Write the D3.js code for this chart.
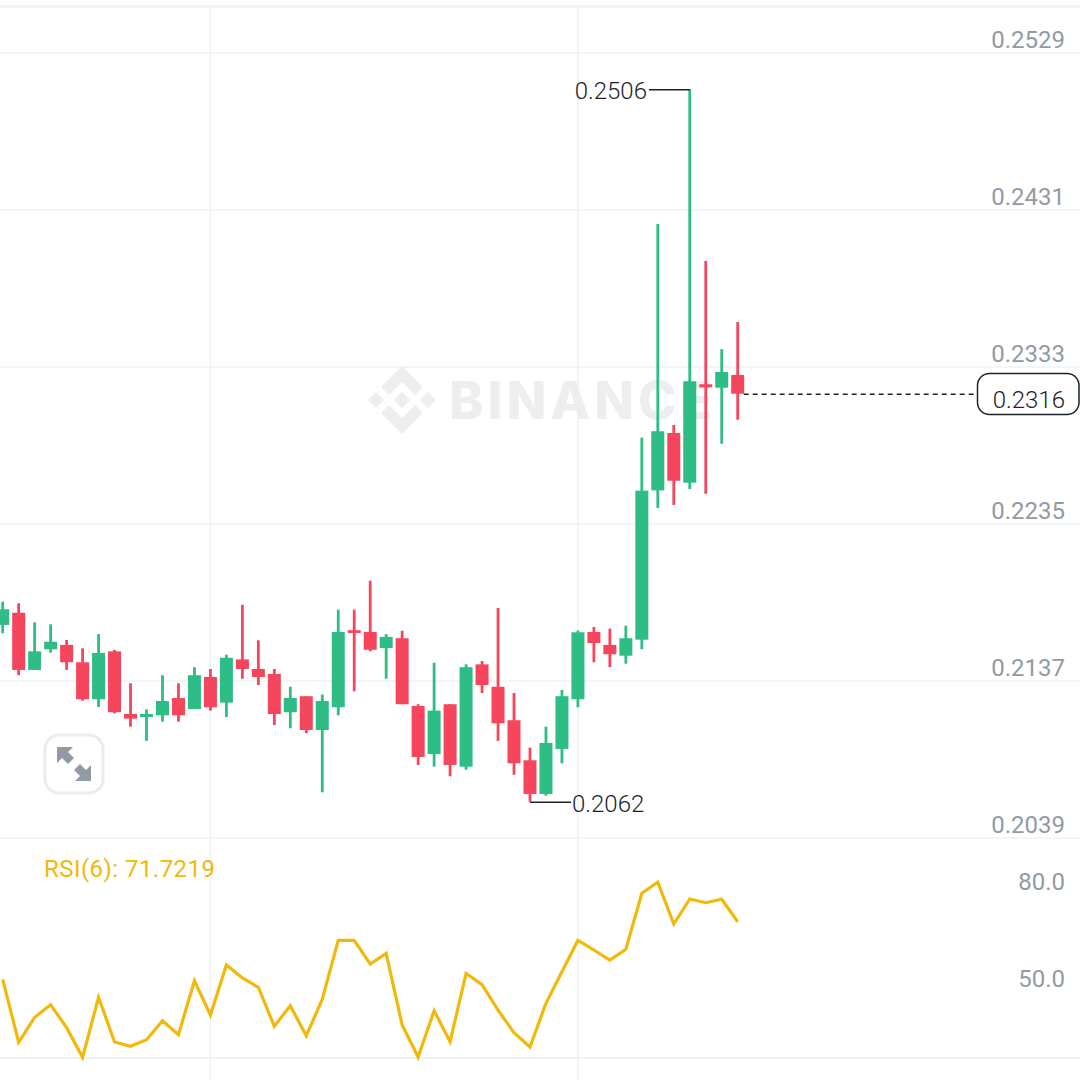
<!DOCTYPE html>
<html>
<head>
<meta charset="utf-8">
<script src="https://cdn.jsdelivr.net/npm/d3@7"></script>
<style>
  html, body { margin: 0; padding: 0; background: #fff; }
  svg { display: block; }
  text { font-family: Roboto, sans-serif; }
</style>
</head>
<body>
<div id="chart"></div>
<script>
// candles, oldest first
var opens = [0.21720,0.21796,0.21439,0.21568,0.21595,0.21487,0.21256,0.21555,0.21164,0.21145,0.21156,0.21264,0.21195,0.21395,0.21235,0.21505,0.21445,0.21414,0.21175,0.21275,0.21064,0.21206,0.21687,0.21676,0.21576,0.21637,0.21214,0.20914,0.21225,0.20835,0.21474,0.21334,0.21125,0.20875,0.20665,0.20946,0.21256,0.21676,0.21595,0.21528,0.21628,0.22560,0.22918,0.22608,0.23222,0.23201,0.23280];
var closes = [0.21818,0.21439,0.21555,0.21615,0.21487,0.21256,0.21545,0.21175,0.21135,0.21164,0.21245,0.21156,0.21406,0.21206,0.21515,0.21445,0.21395,0.21164,0.21264,0.21064,0.21245,0.21676,0.21670,0.21565,0.21645,0.21225,0.20896,0.21185,0.20846,0.21456,0.21345,0.21106,0.20856,0.20665,0.20983,0.21275,0.21674,0.21607,0.21537,0.21637,0.22558,0.22929,0.22620,0.23241,0.23203,0.23299,0.23163];
var highs = [0.21865,0.21855,0.21736,0.21724,0.21626,0.21574,0.21663,0.21564,0.21356,0.21193,0.21406,0.21356,0.21456,0.21445,0.21534,0.21846,0.21624,0.21445,0.21334,0.21275,0.21285,0.21815,0.21815,0.21996,0.21663,0.21684,0.21225,0.21484,0.21225,0.21474,0.21495,0.21826,0.21295,0.20954,0.21085,0.21314,0.21685,0.21707,0.21697,0.21715,0.22889,0.24223,0.22968,0.25065,0.23992,0.23441,0.23611];
var lows = [0.21668,0.21406,0.21439,0.21547,0.21439,0.21247,0.21208,0.21168,0.21085,0.20996,0.21116,0.21116,0.21195,0.21185,0.21145,0.21384,0.21345,0.21095,0.21075,0.21044,0.20675,0.21156,0.21306,0.21555,0.21384,0.21225,0.20846,0.20835,0.20775,0.20816,0.21295,0.20996,0.20785,0.20617,0.20654,0.20856,0.21206,0.21487,0.21457,0.21478,0.21568,0.22450,0.22469,0.22569,0.22539,0.22851,0.23001];
var rsi = [53.62,34.13,41.86,45.76,38.65,29.49,48.05,34.22,32.89,34.93,40.81,36.48,53.18,42.57,58.04,54.02,51.14,39.08,45.45,36.17,47.43,65.68,65.68,58.35,61.66,39.48,29.58,43.9,34.32,55.47,51.95,44.12,37.1,32.68,46.19,55.97,65.68,62.68,59.59,62.9,80.22,83.62,70.72,78.45,77.31,78.36,71.43];

var priceTicks = [0.2529,0.2431,0.2333,0.2235,0.2137,0.2039];
var rsiTicks = [80,50];
var lastPrice = 0.2316;
var highMark = 0.2506;
var lowMark = 0.2062;
var rsiLabel = "RSI(6): 71.7219";
var dateGrid = [13,36]; // candle index of the two vertical grid lines

var width = 1080, height = 1080;
var green = "#2ebd85", red = "#f6465d", grid = "#eff2f5", axisText = "#929aa5", dark = "#1e2329", yellow = "#f0b90b";

var svg = d3.select("#chart").append("svg")
  .attr("width", width)
  .attr("height", height);

// index -> x
var x = d3.scaleLinear().domain([0, 46]).range([2.7, 737.7]);
// price -> y
var y = d3.scaleLinear().domain([0.2039, 0.2529]).range([838, 53]);
// rsi -> y
var yRsi = d3.scaleLinear().domain([80, 50]).range([894, 991]);

// horizontal grid
svg.append("g").selectAll("line")
  .data(priceTicks)
  .enter().append("line")
  .attr("x1", 0).attr("x2", width)
  .attr("y1", d => y(d)).attr("y2", d => y(d))
  .attr("stroke", grid).attr("stroke-width", 1.5);

svg.append("line").attr("x1", 0).attr("x2", width).attr("y1", 6.5).attr("y2", 6.5)
  .attr("stroke", grid).attr("stroke-width", 2.5);
svg.append("line").attr("x1", 0).attr("x2", width).attr("y1", 1058).attr("y2", 1058)
  .attr("stroke", grid).attr("stroke-width", 2);

// vertical grid
svg.append("g").selectAll("line")
  .data(dateGrid)
  .enter().append("line")
  .attr("x1", d => x(d)).attr("x2", d => x(d))
  .attr("y1", 8).attr("y2", height)
  .attr("stroke", grid).attr("stroke-width", 1.5);

// watermark
var mark = svg.append("g").attr("fill", "#eceeef");
mark.append("g").attr("transform", "translate(402,400)").selectAll("path")
  .data([
    "M0,-34 L21,-13 L13,-5 L0,-18 L-13,-5 L-21,-13 Z",
    "M0,34 L21,13 L13,5 L0,18 L-13,5 L-21,13 Z",
    "M-34,0 L-26,-8 L-18,0 L-26,8 Z",
    "M34,0 L26,-8 L18,0 L26,8 Z",
    "M0,-8 L8,0 L0,8 L-8,0 Z"
  ])
  .enter().append("path").attr("d", d => d);
mark.append("text")
  .attr("x", 449).attr("y", 419)
  .attr("font-size", 52).attr("font-weight", 800).attr("letter-spacing", 4)
  .style("font-family", "Inter, sans-serif")
  .text("BINANCE");

// candles
var idx = d3.range(opens.length);
var candles = svg.append("g");
candles.selectAll("line")
  .data(idx)
  .enter().append("line")
  .attr("x1", i => x(i)).attr("x2", i => x(i))
  .attr("y1", i => y(highs[i])).attr("y2", i => y(lows[i]))
  .attr("stroke", i => closes[i] >= opens[i] ? green : red)
  .attr("stroke-width", 2.8);
candles.selectAll("rect")
  .data(idx)
  .enter().append("rect")
  .attr("x", i => x(i) - 6.5)
  .attr("width", 13)
  .attr("y", i => y(Math.max(opens[i], closes[i])))
  .attr("height", i => Math.abs(y(opens[i]) - y(closes[i])))
  .attr("fill", i => closes[i] >= opens[i] ? green : red);

// high / low callouts
svg.append("line").attr("x1", 649).attr("x2", x(43)).attr("y1", y(highMark)).attr("y2", y(highMark))
  .attr("stroke", dark).attr("stroke-width", 1.5);
svg.append("text").attr("x", 647).attr("y", y(highMark) + 9).attr("text-anchor", "end")
  .attr("font-size", 24).attr("font-weight", 300).attr("fill", dark).text(highMark.toFixed(4));
svg.append("line").attr("x1", x(33)).attr("x2", 571).attr("y1", y(lowMark) + 1).attr("y2", y(lowMark) + 1)
  .attr("stroke", dark).attr("stroke-width", 1.5);
svg.append("text").attr("x", 572).attr("y", y(lowMark) + 11)
  .attr("font-size", 24).attr("font-weight", 300).attr("fill", dark).text(lowMark.toFixed(4));

// last price
svg.append("line").attr("x1", x(46) + 6).attr("x2", 977).attr("y1", y(lastPrice)).attr("y2", y(lastPrice))
  .attr("stroke", dark).attr("stroke-width", 1.4).attr("stroke-dasharray", "5,4");
svg.append("rect").attr("x", 977.5).attr("y", 373.5).attr("width", 101.5).attr("height", 41).attr("rx", 12)
  .attr("fill", "#fff").attr("stroke", dark).attr("stroke-width", 1.5);
svg.append("text").attr("x", 1065).attr("y", 407.5).attr("text-anchor", "end")
  .attr("font-size", 24).attr("font-weight", 300).attr("fill", dark).text(lastPrice.toFixed(4));

// price axis labels
svg.append("g").selectAll("text")
  .data(priceTicks)
  .enter().append("text")
  .attr("x", 1065).attr("y", d => y(d) - 5)
  .attr("text-anchor", "end").attr("font-size", 24).attr("fill", axisText)
  .text(d => d.toFixed(4));

// rsi panel
var rsiLine = d3.line().x((d, i) => x(i)).y(d => yRsi(d));
svg.append("path").datum(rsi)
  .attr("d", rsiLine)
  .attr("fill", "none").attr("stroke", yellow).attr("stroke-width", 3.2);
svg.append("text").attr("x", 44).attr("y", 877)
  .attr("font-size", 24).attr("letter-spacing", 0.45).attr("fill", yellow).text(rsiLabel);
svg.append("g").selectAll("text")
  .data(rsiTicks)
  .enter().append("text")
  .attr("x", 1065).attr("y", d => yRsi(d) - 4)
  .attr("text-anchor", "end").attr("font-size", 24).attr("fill", axisText)
  .text(d => d.toFixed(1));

// expand button
var btn = svg.append("g").attr("transform", "translate(74,764)");
btn.append("rect").attr("x", -29).attr("y", -29).attr("width", 58).attr("height", 58).attr("rx", 14)
  .attr("fill", "#fff").attr("stroke", "#eaecef").attr("stroke-width", 3);
btn.selectAll("path")
  .data(["M-17,-17 L-1,-17 L-6,-12 L0,-6 L-6,0 L-12,-6 L-17,-1 Z", "M17,17 L1,17 L6,12 L0,6 L6,0 L12,6 L17,1 Z"])
  .enter().append("path").attr("d", d => d).attr("fill", "#929aa5");
</script>
</body>
</html>
